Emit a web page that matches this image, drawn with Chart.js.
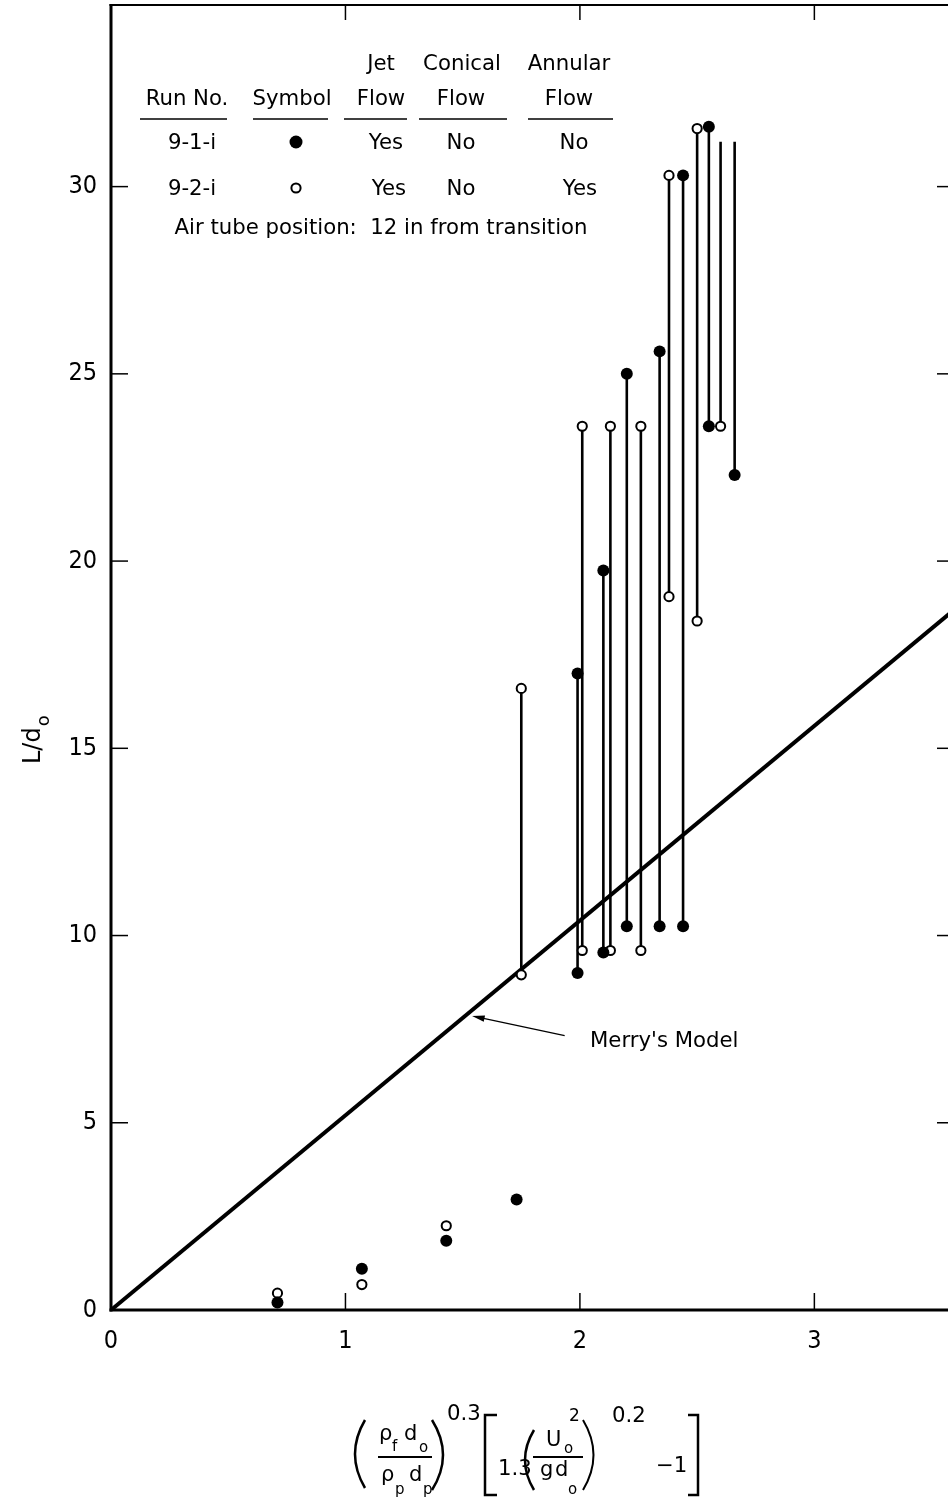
<!DOCTYPE html>
<html>
<head>
<meta charset="utf-8">
<script src="https://cdn.jsdelivr.net/npm/chart.js@4.4.1/dist/chart.umd.min.js"></script>
<style>
  html, body { margin: 0; padding: 0; background: #fff; }
  #plot { display: block; }
</style>
</head>
<body>
<canvas id="plot" width="948" height="1505"></canvas>
<script>
// single points, no bed fluctuation
const run91X = [0.71, 1.07, 1.43, 1.73];
const run91Y = [0.2, 1.1, 1.85, 2.95];
const run92X = [0.71, 1.07, 1.43];
const run92Y = [0.45, 0.68, 2.25];

// fluctuating bed: min and max heights per run
const run91RangeX = [1.99, 2.10, 2.20, 2.34, 2.44, 2.55, 2.66];
const run91Low = [9.0, 9.55, 10.25, 10.25, 10.25, 23.6, 22.3];
const run91High = [17.0, 19.75, 25.0, 25.6, 30.3, 31.6, 31.2];
const run91HighMarked = [true, true, true, true, true, true, false];

const run92RangeX = [1.75, 2.01, 2.13, 2.26, 2.38, 2.50, 2.60];
const run92Low = [8.95, 9.6, 9.6, 9.6, 19.05, 18.4, 23.6];
const run92High = [16.6, 23.6, 23.6, 23.6, 30.3, 31.55, 31.2];
const run92HighMarked = [true, true, true, true, true, true, false];

// Merry's model line
const merryX = [0, 3.6];
const merryY = [0, 18.72];

const xTicks = [0, 1, 2, 3];
const yTicks = [0, 5, 10, 15, 20, 25, 30];

const FONT = "'DejaVu Sans', sans-serif";
const TICKFONT = "'DejaVu Sans Condensed', 'DejaVu Sans', sans-serif";

function pts(xs, ys) {
  return xs.map((x, i) => ({ x: x, y: ys[i] }));
}

function markerPts(singleX, singleY, rx, low, high, marked) {
  const out = pts(singleX, singleY).concat(pts(rx, low));
  rx.forEach((x, i) => {
    if (marked[i]) out.push({ x: x, y: high[i] });
  });
  return out;
}

function stems(rx, low, high) {
  return rx.map((x, i) => ({
    data: [{ x: x, y: low[i] }, { x: x, y: high[i] }],
    showLine: true,
    borderColor: "#000",
    borderWidth: 2.6,
    pointRadius: 0,
    order: 2,
  }));
}

const datasets = [
  {
    label: "9-1-i",
    data: markerPts(run91X, run91Y, run91RangeX, run91Low, run91High, run91HighMarked),
    pointRadius: 6,
    pointBackgroundColor: "#000",
    pointBorderColor: "#000",
    pointBorderWidth: 0,
    order: 0,
  },
  {
    label: "9-2-i",
    data: markerPts(run92X, run92Y, run92RangeX, run92Low, run92High, run92HighMarked),
    pointRadius: 4.6,
    pointBackgroundColor: "#fff",
    pointBorderColor: "#000",
    pointBorderWidth: 2,
    order: 1,
  },
  ...stems(run91RangeX, run91Low, run91High),
  ...stems(run92RangeX, run92Low, run92High),
  {
    label: "Merry's Model",
    data: pts(merryX, merryY),
    showLine: true,
    borderColor: "#000",
    borderWidth: 4,
    pointRadius: 0,
    order: 3,
  },
];

function txt(ctx, s, x, y, size, align, k) {
  ctx.font = `${size}px ${FONT}`;
  ctx.textAlign = "left";
  ctx.textBaseline = "alphabetic";
  const w = ctx.measureText(s).width * (k || 1);
  let left = x;
  if (align === "center") left = x - w / 2;
  if (align === "right") left = x - w;
  ctx.save();
  ctx.translate(left, y);
  ctx.scale(k || 1, 1);
  ctx.fillText(s, 0, 0);
  ctx.restore();
}

function line(ctx, x0, y0, x1, y1, w) {
  ctx.lineWidth = w;
  ctx.beginPath();
  ctx.moveTo(x0, y0);
  ctx.lineTo(x1, y1);
  ctx.stroke();
}

function curve(ctx, x0, y0, cx, x1, y1) {
  ctx.beginPath();
  ctx.moveTo(x0, y0);
  ctx.quadraticCurveTo(cx, (y0 + y1) / 2, x1, y1);
  ctx.stroke();
}

function noPad(s) {
  s.paddingTop = 0;
  s.paddingBottom = 0;
  s.paddingLeft = 0;
  s.paddingRight = 0;
}

const frame = {
  id: "frame",
  afterDatasetsDraw(chart) {
    const { ctx, chartArea: a, scales } = chart;
    const x = scales.x, y = scales.y;
    ctx.save();
    ctx.strokeStyle = "#000";
    ctx.lineCap = "butt";
    line(ctx, a.left, a.top - 1, a.left, a.bottom + 1.5, 3);
    line(ctx, a.left - 1.5, a.bottom, a.right, a.bottom, 3);
    line(ctx, a.left - 1.5, a.top, a.right, a.top, 2);
    yTicks.slice(1).forEach((v) => {
      const py = y.getPixelForValue(v);
      line(ctx, a.left, py, a.left + 17, py, 1.5);
      line(ctx, a.right, py, a.right - 11, py, 1.5);
    });
    xTicks.slice(1).forEach((v) => {
      const px = x.getPixelForValue(v);
      line(ctx, px, a.bottom, px, a.bottom - 17, 1.5);
      line(ctx, px, a.top, px, a.top + 15, 1.5);
    });
    ctx.restore();
  },
};

const notes = {
  id: "notes",
  afterDraw(chart) {
    const { ctx, scales } = chart;
    const x = scales.x, y = scales.y;
    ctx.save();
    ctx.fillStyle = "#000";
    ctx.strokeStyle = "#000";

    // table of runs
    ctx.font = `21px ${FONT}`;
    const airText = "Air tube position:  12 in from transition";
    const k = 413 / ctx.measureText(airText).width;
    txt(ctx, "Jet", 381, 70, 21, "center", k);
    txt(ctx, "Conical", 462, 70, 21, "center", k);
    txt(ctx, "Annular", 569, 70, 21, "center", k);
    txt(ctx, "Run No.", 187, 105, 21, "center", k);
    txt(ctx, "Symbol", 292, 105, 21, "center", k);
    txt(ctx, "Flow", 381, 105, 21, "center", k);
    txt(ctx, "Flow", 461, 105, 21, "center", k);
    txt(ctx, "Flow", 569, 105, 21, "center", k);
    [[140, 227], [253, 328], [344, 407], [419, 507], [528, 613]].forEach((r) =>
      line(ctx, r[0], 119, r[1], 119, 1.5)
    );
    txt(ctx, "9-1-i", 192, 149, 21, "center", k);
    txt(ctx, "Yes", 386, 149, 21, "center", k);
    txt(ctx, "No", 461, 149, 21, "center", k);
    txt(ctx, "No", 574, 149, 21, "center", k);
    txt(ctx, "9-2-i", 192, 195, 21, "center", k);
    txt(ctx, "Yes", 389, 195, 21, "center", k);
    txt(ctx, "No", 461, 195, 21, "center", k);
    txt(ctx, "Yes", 580, 195, 21, "center", k);
    ctx.beginPath();
    ctx.arc(296, 142, 6.5, 0, Math.PI * 2);
    ctx.fill();
    ctx.lineWidth = 2;
    ctx.beginPath();
    ctx.arc(296, 188, 4.6, 0, Math.PI * 2);
    ctx.stroke();
    txt(ctx, airText, 381, 234, 21, "center", k);

    // Merry's Model label with arrow
    const tipX = x.getPixelForValue(1.54), tipY = y.getPixelForValue(7.85);
    const tailX = x.getPixelForValue(1.935), tailY = y.getPixelForValue(7.33);
    line(ctx, tailX, tailY, tipX + 8, tipY + 1.5, 1.3);
    const ang = Math.atan2(tipY - tailY, tipX - tailX);
    ctx.beginPath();
    ctx.moveTo(tipX, tipY);
    ctx.lineTo(tipX - 13 * Math.cos(ang - 0.25), tipY - 13 * Math.sin(ang - 0.25));
    ctx.lineTo(tipX - 13 * Math.cos(ang + 0.25), tipY - 13 * Math.sin(ang + 0.25));
    ctx.closePath();
    ctx.fill();
    txt(ctx, "Merry's Model", 590, 1047, 21, "left", k);

    // y title  L/d_o
    ctx.save();
    ctx.translate(40, 764);
    ctx.rotate(-Math.PI / 2);
    ctx.font = `24px ${FONT}`;
    ctx.textAlign = "left";
    ctx.fillText("L/d", 0, 0);
    const wl = ctx.measureText("L/d").width;
    ctx.font = `18px ${FONT}`;
    ctx.fillText("o", wl + 1, 9);
    ctx.restore();

    // x title formula
    ctx.lineWidth = 2.5;
    curve(ctx, 365, 1420, 345, 365, 1488);
    curve(ctx, 432, 1420, 454, 432, 1490);
    txt(ctx, "ρ", 379, 1440, 21, "left");
    txt(ctx, "f", 392, 1451, 15, "left");
    txt(ctx, "d", 404, 1440, 21, "left");
    txt(ctx, "o", 419, 1452, 15, "left");
    line(ctx, 378, 1457, 432, 1457, 2);
    txt(ctx, "ρ", 381, 1481, 21, "left");
    txt(ctx, "p", 395, 1494, 15, "left");
    txt(ctx, "d", 409, 1481, 21, "left");
    txt(ctx, "p", 423, 1494, 15, "left");
    txt(ctx, "0.3", 447, 1420, 21, "left", k);

    ctx.lineWidth = 2.5;
    ctx.beginPath();
    ctx.moveTo(497, 1415); ctx.lineTo(485, 1415); ctx.lineTo(485, 1495); ctx.lineTo(497, 1495);
    ctx.stroke();
    txt(ctx, "1.3", 498, 1475, 21, "left", k);
    curve(ctx, 534, 1430, 516, 534, 1490);
    txt(ctx, "U", 546, 1446, 21, "left");
    txt(ctx, "o", 564, 1453, 15, "left");
    txt(ctx, "2", 569, 1421, 17, "left");
    line(ctx, 533, 1457, 583, 1457, 2);
    txt(ctx, "g", 540, 1476, 21, "left");
    txt(ctx, "d", 555, 1476, 21, "left");
    txt(ctx, "o", 568, 1494, 15, "left");
    curve(ctx, 583, 1420, 604, 583, 1490);
    txt(ctx, "0.2", 612, 1422, 21, "left", k);
    txt(ctx, "\u22121", 656, 1472, 21, "left", k);
    ctx.lineWidth = 2.5;
    ctx.beginPath();
    ctx.moveTo(688, 1415); ctx.lineTo(698, 1415); ctx.lineTo(698, 1495); ctx.lineTo(688, 1495);
    ctx.stroke();

    ctx.restore();
  },
};

new Chart(document.getElementById("plot"), {
  type: "scatter",
  data: { datasets: datasets },
  options: {
    responsive: false,
    animation: false,
    devicePixelRatio: 1,
    layout: { autoPadding: false, padding: { top: 5, right: 0, left: 0, bottom: 0 } },
    plugins: {
      legend: { display: false },
      tooltip: { enabled: false },
    },
    scales: {
      x: {
        type: "linear",
        min: 0,
        max: 3.57,
        grid: { display: false, drawTicks: false },
        border: { display: false },
        afterBuildTicks: (s) => {
          s.ticks = xTicks.map((v) => ({ value: v }));
        },
        afterFit: (s) => {
          s.height = 195;
          noPad(s);
        },
        ticks: {
          color: "#000",
          font: { family: TICKFONT, size: 25 },
          padding: 16,
          maxRotation: 0,
          autoSkip: false,
        },
      },
      y: {
        type: "linear",
        min: 0,
        max: 34.85,
        grid: { display: false, drawTicks: false },
        border: { display: false },
        afterBuildTicks: (s) => {
          s.ticks = yTicks.map((v) => ({ value: v }));
        },
        afterFit: (s) => {
          s.width = 111;
          noPad(s);
        },
        ticks: {
          color: "#000",
          font: { family: TICKFONT, size: 25 },
          padding: 14,
          autoSkip: false,
        },
      },
    },
  },
  plugins: [frame, notes],
});
</script>
</body>
</html>
